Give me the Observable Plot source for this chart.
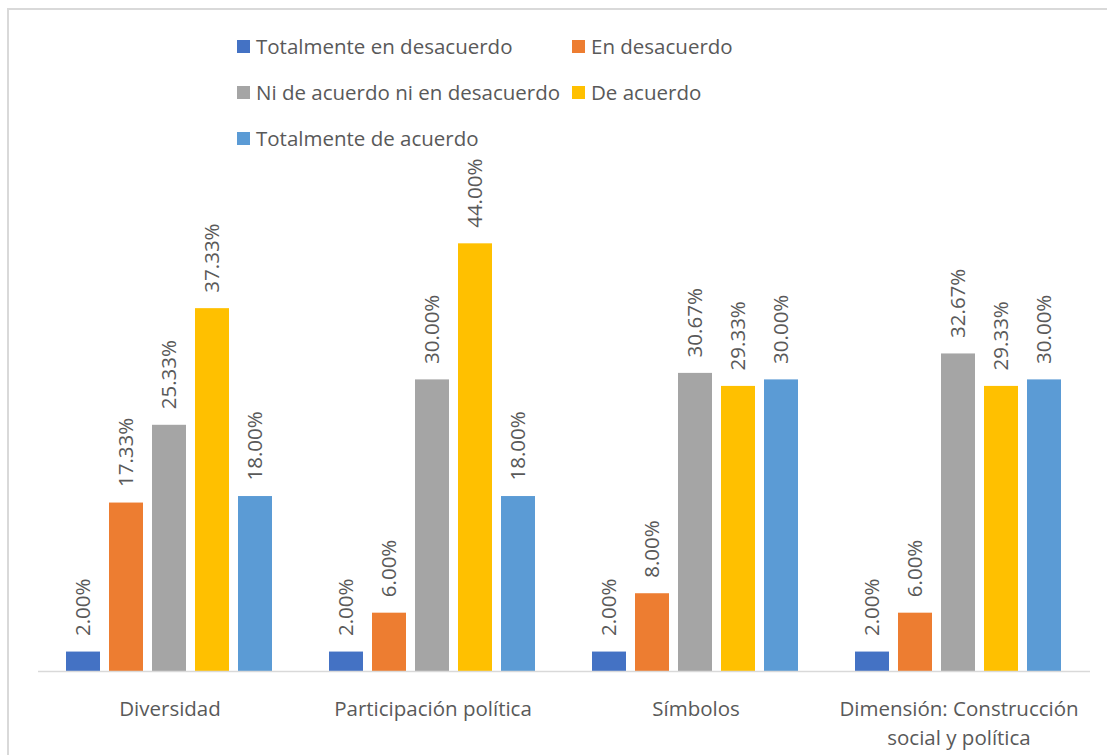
<!DOCTYPE html>
<html>
<head>
<meta charset="utf-8">
<script src="https://cdn.jsdelivr.net/npm/d3@7"></script>
<script src="https://cdn.jsdelivr.net/npm/@observablehq/plot@0.6"></script>
<style>
  html, body { margin: 0; padding: 0; background: #fff; }
  #wrap { position: relative; width: 1107px; height: 755px; overflow: hidden; font-family: "Open Sans", Lato, sans-serif; color: #595959; }
  #border { position: absolute; left: 7px; top: 8px; width: 1130px; height: 800px; border: 2px solid #d9d9d9; box-sizing: border-box; }
  #legend { position: absolute; left: 237px; top: 23px; display: grid; grid-template-columns: 335px auto; grid-auto-rows: 46px; font-size: 20.5px; }
  .item { display: flex; align-items: center; white-space: nowrap; }
  .sw { width: 13px; height: 13px; margin-right: 6px; flex: none; }
  #chart { position: absolute; left: 0; top: 150px; }
</style>
</head>
<body>
<div id="wrap">
  <div id="border"></div>
  <div id="legend"></div>
  <div id="chart"></div>
</div>
<script>
const categories = ["Diversidad", "Participación política", "Símbolos", "Dimensión: Construcción\nsocial y política"];
const series = ["Totalmente en desacuerdo", "En desacuerdo", "Ni de acuerdo ni en desacuerdo", "De acuerdo", "Totalmente de acuerdo"];
const colors = ["#4472C4", "#ED7D31", "#A5A5A5", "#FFC000", "#5B9BD5"];

const totalmenteEnDesacuerdo = [2.00, 2.00, 2.00, 2.00];
const enDesacuerdo = [17.33, 6.00, 8.00, 6.00];
const niDeAcuerdoNiEnDesacuerdo = [25.33, 30.00, 30.67, 32.67];
const deAcuerdo = [37.33, 44.00, 29.33, 29.33];
const totalmenteDeAcuerdo = [18.00, 18.00, 30.00, 30.00];

const valuesBySeries = [totalmenteEnDesacuerdo, enDesacuerdo, niDeAcuerdoNiEnDesacuerdo, deAcuerdo, totalmenteDeAcuerdo];
const data = [];
categories.forEach((c, ci) => {
  series.forEach((s, si) => data.push({category: c, series: s, value: valuesBySeries[si][ci]}));
});

// Legend (HTML, above the chart)
const legend = document.getElementById("legend");
series.forEach((s, i) => {
  const it = document.createElement("div");
  it.className = "item";
  const sw = document.createElement("span");
  sw.className = "sw";
  sw.style.background = colors[i];
  it.appendChild(sw);
  it.appendChild(document.createTextNode(s));
  legend.appendChild(it);
});

const chart = Plot.plot({
  width: 1107,
  height: 605,
  marginTop: 35,
  marginBottom: 84,
  marginLeft: 37,
  marginRight: 16,
  style: { fontFamily: "'Open Sans', Lato, sans-serif", fontSize: "20.5px", color: "#595959", background: "transparent", overflow: "visible" },
  fx: { domain: categories, padding: 0, axis: null, label: null },
  x: { domain: series, paddingInner: 0.2, paddingOuter: 0.594, axis: null },
  y: { domain: [0, 50], axis: null },
  color: { domain: series, range: colors },
  marks: [
    Plot.barY(data, { fx: "category", x: "series", y: "value", fill: "series" }),
    Plot.text(data, {
      fx: "category", x: "series", y: "value",
      text: d => d.value.toFixed(2) + "%",
      rotate: -90, textAnchor: "start", lineAnchor: "middle",
      dy: -16, fontSize: 20.5, fill: "#595959"
    }),
    Plot.ruleY([0], { stroke: "#d9d9d9", strokeWidth: 1.5 }),
    Plot.text(categories, {
      fx: d => d, text: d => d, frameAnchor: "bottom",
      lineAnchor: "top", dy: 24, lineHeight: 1.42, fontSize: 20.5, fill: "#595959"
    })
  ]
});
document.getElementById("chart").appendChild(chart);
</script>
</body>
</html>
